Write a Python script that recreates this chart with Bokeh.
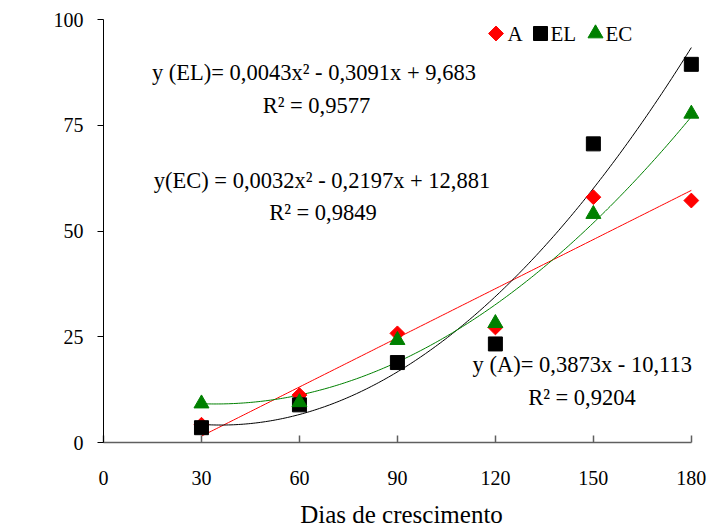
import numpy as np
from bokeh.plotting import figure
from bokeh.models import Range1d, FixedTicker, Label
from bokeh.embed import file_html
from bokeh.resources import INLINE

# ---- data ----
dias = [30, 60, 90, 120, 150, 180]
serie_A = [4.2, 11.2, 25.8, 27.2, 58.0, 57.2]
serie_EL = [3.5, 8.9, 18.9, 23.3, 70.6, 89.4]
serie_EC = [9.2, 9.5, 24.2, 28.2, 54.0, 77.7]

coef_A = [0.3873, -10.113]            # linear trend
coef_EL = [0.0043, -0.3091, 9.683]     # quadratic trend
coef_EC = [0.0032, -0.2197, 12.881]    # quadratic trend

series_names = ["A", "EL", "EC"]
x_ticks = [0, 30, 60, 90, 120, 150, 180]
y_ticks = [0, 25, 50, 75, 100]

FONT = "Liberation Serif"
RED, BLACK, GREEN = "#ff0000", "#000000", "#008000"

W, H = 709, 531
ML, MR, MT, MB = 103, 10, 19, 89
FW, FH = W - ML - MR, H - MT - MB

p = figure(width=W, height=H, output_backend="svg", toolbar_location=None,
           x_range=Range1d(0, 182.5), y_range=Range1d(0, 100),
           min_border_left=ML, min_border_right=MR, min_border_top=MT, min_border_bottom=MB)
# pixel-like helper ranges for the legend key layout
p.extra_x_ranges = {"px": Range1d(0, FW)}
p.extra_y_ranges = {"px": Range1d(0, FH)}
p.outline_line_color = None
p.xgrid.visible = False
p.ygrid.visible = False
p.background_fill_color = "white"
p.border_fill_color = "white"

# axes
xa = p.xaxis[0]
xa.ticker = FixedTicker(ticks=x_ticks)
xa.bounds = (0, 180)
xa.axis_line_color = "#5f5f5f"
xa.major_tick_line_color = "#5f5f5f"
xa.axis_line_width = 1.5
xa.major_tick_line_width = 1.5
xa.major_tick_in = 7
xa.major_tick_out = 0
xa.minor_tick_line_color = None
xa.major_label_text_font = FONT
xa.major_label_text_font_size = "20px"
xa.major_label_text_color = "black"
xa.major_label_standoff = 28
xa.axis_label = "Dias de crescimento"
xa.axis_label_text_font = FONT
xa.axis_label_text_font_size = "25px"
xa.axis_label_text_font_style = "normal"
xa.axis_label_text_color = "black"
xa.axis_label_standoff = 13

ya = p.yaxis[0]
ya.ticker = FixedTicker(ticks=y_ticks)
ya.axis_line_color = "black"
ya.major_tick_line_color = "black"
ya.major_tick_in = 0
ya.major_tick_out = 6
ya.minor_tick_line_color = None
ya.major_label_text_font = FONT
ya.major_label_text_font_size = "20px"
ya.major_label_text_color = "black"
ya.major_label_standoff = 14

# trend lines
xs = np.linspace(30, 180, 200)
p.line(xs, np.polyval(coef_A, xs), line_color=RED, line_width=1)
p.line(xs, np.polyval(coef_EL, xs), line_color=BLACK, line_width=1)
p.line(xs, np.polyval(coef_EC, xs), line_color=GREEN, line_width=1)

# markers
p.scatter(dias, serie_A, marker="square", angle=np.pi / 4, size=10.5,
          fill_color=RED, line_color=RED)
p.scatter(dias, serie_EL, marker="square", size=14, fill_color=BLACK, line_color=BLACK)
p.scatter(dias, serie_EC, marker="triangle", size=15, fill_color=GREEN, line_color=GREEN)

# legend (key marks laid out in the pixel helper ranges)
key_y = FH - 33 + MT - 19 + 19 - MT  # ~ 33px below the top of the canvas
key_y = (H - MB) - 33
p.scatter([392.5], [key_y], x_range_name="px", y_range_name="px", marker="square",
          angle=np.pi / 4, size=10.5, fill_color=RED, line_color=RED)
p.scatter([437], [key_y], x_range_name="px", y_range_name="px", marker="square",
          size=14, fill_color=BLACK, line_color=BLACK)
p.scatter([492], [key_y], x_range_name="px", y_range_name="px", marker="triangle",
          size=15, fill_color=GREEN, line_color=GREEN)
for name, lx in zip(series_names, [404, 447, 502]):
    p.add_layout(Label(x=lx, y=key_y, x_range_name="px", y_range_name="px", text=name,
                       text_align="left", text_baseline="middle",
                       text_font=FONT, text_font_size="21px", text_color="black"))

# equations
eqs = [
    ("y (EL)=  0,0043x\u00b2 - 0,3091x + 9,683", 65.3, 87.5),
    ("R\u00b2 = 0,9577", 65.2, 79.7),
    ("y(EC) = 0,0032x\u00b2 - 0,2197x + 12,881", 66.9, 61.9),
    ("R\u00b2 = 0,9849", 67.2, 54.3),
    ("y (A)= 0,3873x - 10,113", 146.6, 18.4),
    ("R\u00b2 = 0,9204", 146.5, 10.6),
]
for t, x, y in eqs:
    p.add_layout(Label(x=x, y=y, text=t, text_align="center", text_baseline="middle",
                       text_font=FONT, text_font_size="22.5px", text_color="black"))

# y axis title with superscript
p.add_layout(Label(x=-22.6, y=47.1, text="N\u00ba.planta", angle=np.pi / 2,
                   text_align="center", text_baseline="middle",
                   text_font=FONT, text_font_size="23px", text_color="black"))
p.add_layout(Label(x=-24.8, y=59.8, text="-1", angle=np.pi / 2,
                   text_align="center", text_baseline="middle",
                   text_font=FONT, text_font_size="15px", text_color="black"))

open("out.html", "w").write(file_html(p, INLINE))
